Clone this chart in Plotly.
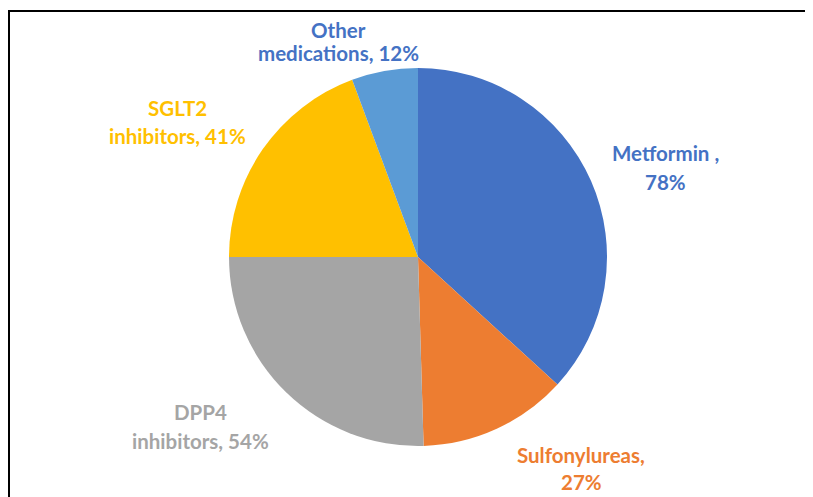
import plotly.graph_objects as go

# The page body has an 8px default margin, so the figure is drawn at (8, 8)
OFF = 8
W, H = 813 - OFF, 497 - OFF

categories = ["Metformin", "Sulfonylureas", "DPP4 inhibitors", "SGLT2 inhibitors", "Other medications"]
values = [78, 27, 54, 41, 12]
slice_colors = ["#4472C4", "#ED7D31", "#A5A5A5", "#FFC000", "#5B9BD5"]
label_colors = ["#4472C4", "#ED7D31", "#A5A5A5", "#FFC000", "#4472C4"]
# label line 1 / line 2 (as broken in the original)
line1 = ["Metformin ,", "Sulfonylureas,", "DPP4", "SGLT2", "Other"]
line2 = [f"{values[0]}%", f"{values[1]}%",
         f"inhibitors, {values[2]}%", f"inhibitors, {values[3]}%",
         f"medications, {values[4]}%"]
# label centre positions in page pixels (x, line1 y, line2 y)
label_pos = [(665, 153, 182), (581, 455, 482), (200, 412, 441), (177, 108, 136), (338, 30, 53)]

cx, cy, r = 418, 257, 189


def px(x):
    return (x - OFF) / W


def py(y):
    return 1 - (y - OFF) / H


fig = go.Figure(go.Pie(
    labels=categories, values=values, sort=False, direction="clockwise", rotation=0,
    marker=dict(colors=slice_colors, line=dict(width=0)),
    textinfo="none", hoverinfo="label+value", showlegend=False,
    domain=dict(x=[px(cx - r), px(cx + r)], y=[py(cy + r), py(cy - r)]),
))

font_family = "Lato"
for i in range(len(categories)):
    x, y1, y2 = label_pos[i]
    for txt, yy in ((line1[i], y1), (line2[i], y2)):
        fig.add_annotation(x=px(x), y=py(yy), xref="paper", yref="paper",
                           text=f"<b>{txt}</b>", showarrow=False,
                           xanchor="center", yanchor="middle",
                           font=dict(family=font_family, size=20.5, color=label_colors[i]))

fig.add_shape(type="rect", xref="paper", yref="paper",
              x0=px(9), x1=px(830), y0=-0.2, y1=py(11),
              line=dict(color="#000000", width=2), fillcolor="rgba(0,0,0,0)")

fig.update_layout(width=W, height=H, margin=dict(l=0, r=0, t=0, b=0),
                  paper_bgcolor="white", plot_bgcolor="white")

fig.write_html("out.html")
